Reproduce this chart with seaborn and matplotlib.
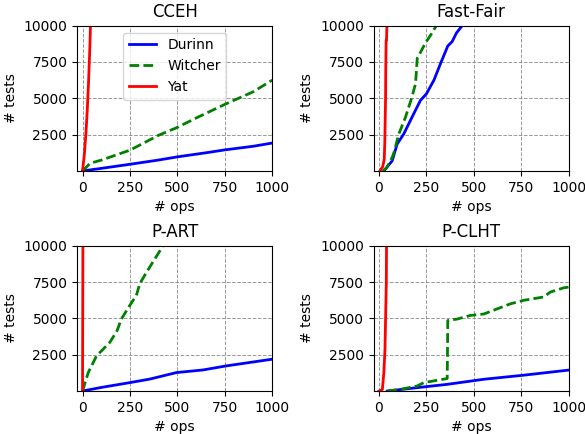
import pandas as pd
import matplotlib.pyplot as plt
import seaborn as sns

# === Data: (ops, tests) per tool ===
cceh_durinn_x = [0, 100, 250, 400, 500, 650, 750, 900, 1000]
cceh_durinn_y = [0, 180, 460, 750, 970, 1250, 1450, 1700, 1920]
cceh_witcher_x = [0, 40, 100, 250, 400, 500, 600, 750, 900, 1000]
cceh_witcher_y = [0, 530, 750, 1430, 2450, 3000, 3650, 4580, 5450, 6250]
cceh_yat_x = [0, 10, 18, 25, 32, 38, 42]
cceh_yat_y = [0, 1200, 2600, 4200, 6200, 8300, 10000]

ff_durinn_x = [26, 70, 96, 131, 184, 219, 250, 290, 325, 363, 386, 409, 439]
ff_durinn_y = [0, 700, 1850, 2550, 3950, 4860, 5300, 6250, 7400, 8600, 8900, 9500, 10000]
ff_witcher_x = [20, 40, 70, 80, 105, 140, 172, 193, 202, 245, 275, 303]
ff_witcher_y = [0, 200, 930, 1300, 2550, 3700, 5000, 6000, 7750, 8800, 9400, 10000]
ff_yat_x = [5, 20, 28, 31, 33, 35, 36, 38, 40, 42]
ff_yat_y = [0, 300, 800, 2000, 3500, 5000, 7000, 9000, 9000, 10000]

part_durinn_x = [0, 100, 250, 354, 495, 635, 758, 900, 1000]
part_durinn_y = [0, 250, 580, 820, 1270, 1450, 1730, 2000, 2190]
part_witcher_x = [0, 30, 74, 144, 182, 205, 249, 284, 302, 333, 372, 425]
part_witcher_y = [0, 1270, 2420, 3350, 4150, 4960, 5890, 6580, 7390, 8080, 8900, 10000]
part_yat_x = [0, 1, 2]
part_yat_y = [0, 5000, 10000]

pclht_durinn_x = [44, 200, 360, 553, 763, 1000]
pclht_durinn_y = [0, 230, 460, 810, 1090, 1440]
pclht_witcher_x = [44, 114, 202, 237, 290, 360, 363, 412, 482, 553, 623, 693, 763, 868, 904, 974, 1000]
pclht_witcher_y = [0, 115, 350, 580, 700, 860, 4850, 4950, 5200, 5300, 5650, 6000, 6240, 6470, 6810, 7100, 7150]
pclht_yat_x = [0, 18, 26, 32, 35, 39, 40]
pclht_yat_y = [0, 100, 1270, 2890, 4970, 7500, 10000]

panels = {
    "CCEH": [(cceh_durinn_x, cceh_durinn_y), (cceh_witcher_x, cceh_witcher_y), (cceh_yat_x, cceh_yat_y)],
    "Fast-Fair": [(ff_durinn_x, ff_durinn_y), (ff_witcher_x, ff_witcher_y), (ff_yat_x, ff_yat_y)],
    "P-ART": [(part_durinn_x, part_durinn_y), (part_witcher_x, part_witcher_y), (part_yat_x, part_yat_y)],
    "P-CLHT": [(pclht_durinn_x, pclht_durinn_y), (pclht_witcher_x, pclht_witcher_y), (pclht_yat_x, pclht_yat_y)],
}
tools = ["Durinn", "Witcher", "Yat"]
colors = {"Durinn": "blue", "Witcher": "green", "Yat": "red"}
dashes = {"Durinn": "", "Witcher": (3.5, 1.5), "Yat": ""}

fig, axes = plt.subplots(2, 2, figsize=(5.85, 4.34), dpi=100)

for ax, (name, series) in zip(axes.flat, panels.items()):
    frames = []
    for tool, (xs, ys) in zip(tools, series):
        frames.append(pd.DataFrame({"ops": xs, "tests": ys, "tool": tool}))
    df = pd.concat(frames, ignore_index=True)
    sns.lineplot(data=df, x="ops", y="tests", hue="tool", style="tool",
                 palette=colors, dashes=dashes, linewidth=2, estimator=None,
                 sort=False, ax=ax, legend=(name == "CCEH"))
    ax.set_xlim(-28, 1000)
    ax.set_ylim(0, 10000)
    ax.set_xticks([0, 250, 500, 750, 1000])
    ax.set_yticks([2500, 5000, 7500, 10000])
    ax.grid(True, linestyle="--", color="gray", linewidth=0.7, alpha=0.8)
    ax.set_title(name, fontsize=12)
    ax.set_xlabel("# ops")
    ax.set_ylabel("# tests")
    if name == "CCEH":
        handles, labels = ax.get_legend_handles_labels()
        ax.legend(handles, labels, loc="upper center", fontsize=10)

fig.subplots_adjust(left=0.132, right=0.972, top=0.941, bottom=0.099,
                    wspace=0.52, hspace=0.514)
plt.savefig("out.png", dpi=100)
plt.close()
